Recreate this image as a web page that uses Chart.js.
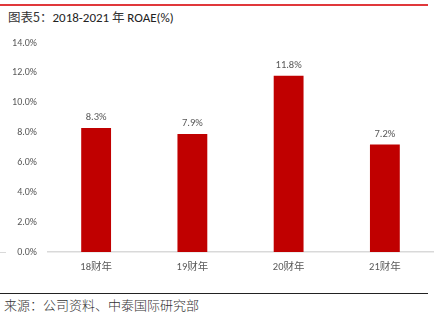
<!DOCTYPE html>
<html>
<head>
<meta charset="utf-8">
<script src="https://cdn.jsdelivr.net/npm/chart.js@4"></script>
<style>
  body { margin: 0; background: #fff; }
  #wrap { position: relative; width: 435px; height: 328px; font-family: Calibri, Carlito, "Noto Sans CJK SC", sans-serif; }
  .rule { position: absolute; left: 0; }
  #title { position: absolute; left: 8px; top: 7px; font-size: 12.5px; color: #333; font-family: "Noto Sans CJK SC", sans-serif; }
  #title span { font-family: Carlito, "Liberation Sans", sans-serif; font-size: 13px; color: #222; }
  #source { position: absolute; left: 4px; top: 295px; font-size: 13px; color: #333; font-family: "Noto Sans CJK SC", serif; font-weight: 300; }
  #box { position: absolute; left: 0; top: 26px; width: 435px; height: 264px; }
</style>
</head>
<body>
<div id="wrap">
  <div class="rule" style="top:4px;width:428px;height:1.5px;background:#e0383b"></div>
  <div id="title">图表5：<span>2018-2021</span> 年 <span>ROAE(%)</span></div>
  <div class="rule" style="top:252px;width:6px;height:1px;background:#d9d9d9"></div>
  <div id="box"><canvas id="roae"></canvas></div>
  <div class="rule" style="top:293px;width:428px;height:1px;background:#222"></div>
  <div id="source">来源：公司资料、中泰国际研究部</div>
</div>
<script>
const categories = ['18财年', '19财年', '20财年', '21财年'];
const roae = [8.3, 7.9, 11.8, 7.2];
const yTicks = [0, 2, 4, 6, 8, 10, 12, 14];

const labelColor = '#595959';

// value labels above each bar
const barLabels = {
    id: 'barLabels',
    afterDatasetsDraw(chart) {
        const ctx = chart.ctx;
        const meta = chart.getDatasetMeta(0);
        ctx.save();
        ctx.font = '10.5px Carlito, Calibri, "Liberation Sans", sans-serif';
        ctx.fillStyle = labelColor;
        ctx.textAlign = 'center';
        ctx.textBaseline = 'bottom';
        meta.data.forEach((bar, i) => {
            ctx.fillText(roae[i].toFixed(1) + '%', bar.x, bar.y - 5);
        });
        ctx.restore();
    }
};

new Chart(document.getElementById('roae').getContext('2d'), {
    type: 'bar',
    data: {
        labels: categories,
        datasets: [{
            data: roae,
            backgroundColor: '#c00000',
            borderWidth: 0,
            categoryPercentage: 1,
            barPercentage: 0.31
        }]
    },
    options: {
        responsive: true,
        maintainAspectRatio: false,
        animation: false,
        layout: { padding: { top: 8, right: 2, left: 0, bottom: 0 } },
        plugins: { legend: { display: false }, tooltip: { enabled: false } },
        scales: {
            x: {
                grid: { display: false, drawTicks: false },
                border: { color: '#d9d9d9', width: 1.5 },
                ticks: {
                    color: labelColor,
                    padding: 9,
                    font: { size: 10.5, family: 'Carlito, "Noto Sans CJK SC", sans-serif' }
                },
                afterFit(scale) { scale.height = 38; }
            },
            y: {
                min: 0,
                max: 14,
                afterBuildTicks(scale) { scale.ticks = yTicks.map(v => ({ value: v })); },
                grid: { display: false, drawTicks: false },
                border: { display: false },
                ticks: {
                    color: labelColor,
                    padding: 11,
                    font: { size: 10, family: 'Carlito, Calibri, "Liberation Sans", sans-serif' },
                    callback: v => v.toFixed(1) + '%'
                },
                afterFit(scale) { scale.width = 48; }
            }
        }
    },
    plugins: [barLabels]
});
</script>
</body>
</html>
